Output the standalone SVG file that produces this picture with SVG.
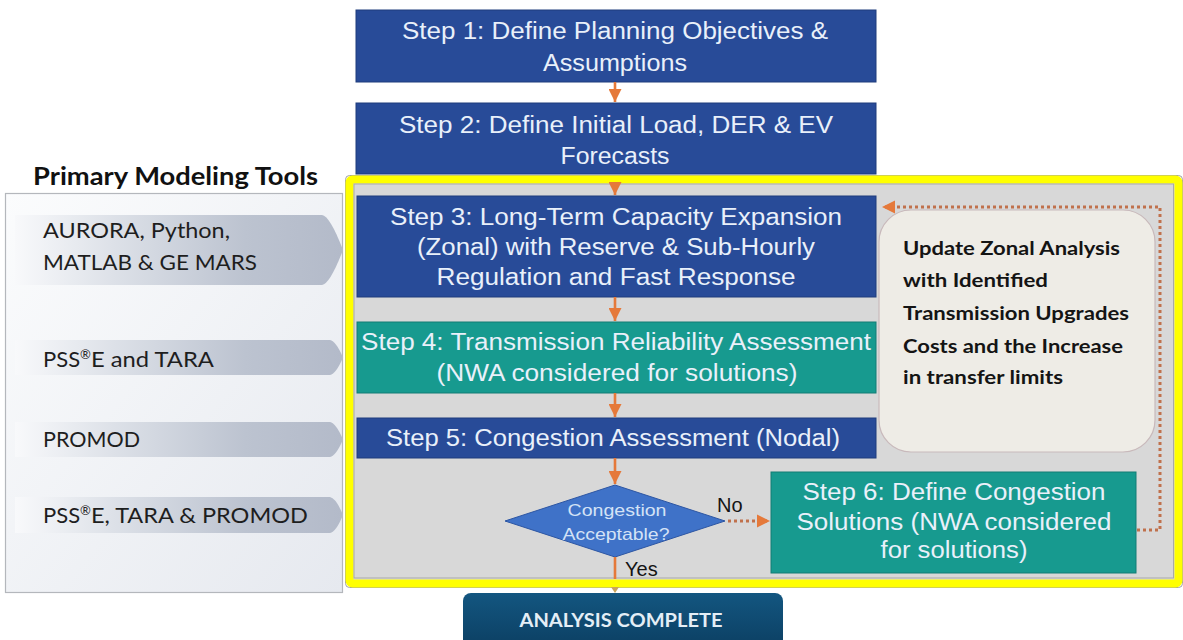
<svg xmlns="http://www.w3.org/2000/svg" width="1183" height="640" viewBox="0 0 1183 640">
  <defs>
    <linearGradient id="panelFill" x1="0" y1="0" x2="1" y2="1">
      <stop offset="0" stop-color="#fbfcfd"/>
      <stop offset="1" stop-color="#e6e9ef"/>
    </linearGradient>
    <linearGradient id="chevFill" x1="0" y1="0" x2="1" y2="0">
      <stop offset="0" stop-color="#f8f9fb"/>
      <stop offset="0.3" stop-color="#dde1e8"/>
      <stop offset="0.7" stop-color="#bcc3d0"/>
      <stop offset="1" stop-color="#b3bac9"/>
    </linearGradient>
    <linearGradient id="doneFill" x1="0" y1="0" x2="0" y2="1">
      <stop offset="0" stop-color="#135680"/>
      <stop offset="1" stop-color="#0b3d60"/>
    </linearGradient>
    <marker id="arrowHead" viewBox="0 0 10 10" refX="10" refY="5" markerWidth="5" markerHeight="5" orient="auto" markerUnits="strokeWidth">
      <path d="M0,0 L10,5 L0,10 z" fill="#e5793a"/>
    </marker>
    <marker id="dotHead" viewBox="0 0 10 10" refX="10" refY="5" markerWidth="4.4" markerHeight="4.4" orient="auto" markerUnits="strokeWidth">
      <path d="M0,0 L10,5 L0,10 z" fill="#e5793a"/>
    </marker>
  </defs>
  <style>
    .step { fill: #284b98; stroke: #1f3c7c; stroke-width: 1; }
    .teal { fill: #179a8f; stroke: #127d74; stroke-width: 1; }
    .stxt { font-family: "Liberation Sans", Arial, sans-serif; font-size: 23px; fill: #e9f0fa; text-anchor: middle; }
    .tool { font-family: Lato, "Open Sans", sans-serif; font-size: 22px; fill: #1e1e1e; }
    .note { font-family: Lato, "Open Sans", sans-serif; font-size: 19px; font-weight: bold; fill: #141414; }
    .lbl { font-family: "Liberation Sans", Arial, sans-serif; font-size: 20px; fill: #141414; }
    .flow { stroke: #e5793a; stroke-width: 2.6; fill: none; }
    .dots { stroke: #c0714c; stroke-width: 3; fill: none; stroke-dasharray: 3 3; }
  </style>

  <rect width="1183" height="640" fill="#ffffff"/>

  <!-- tools panel -->
  <g id="tools-panel">
    <text x="33" y="185" font-family="Lato, 'Open Sans', sans-serif" font-size="25" font-weight="bold" fill="#111" textLength="285" lengthAdjust="spacingAndGlyphs">Primary Modeling Tools</text>
    <rect x="5.5" y="193.5" width="337" height="399" fill="url(#panelFill)" stroke="#b4b7bc" stroke-width="1.2"/>
  </g>
  <g id="tool-aurora">
    <path d="M15,215 H322 Q330,216 343,250 Q330,284 322,285 H15 Z" fill="url(#chevFill)"/>
    <text class="tool" x="43" y="238" textLength="187" lengthAdjust="spacingAndGlyphs">AURORA,  Python,</text>
    <text class="tool" x="43" y="270" textLength="214" lengthAdjust="spacingAndGlyphs">MATLAB &amp; GE MARS</text>
  </g>
  <g id="tool-psse">
    <path d="M15,340 H330 Q336,341 343,357.5 Q336,374 330,375 H15 Z" fill="url(#chevFill)"/>
    <text class="tool" x="43" y="367">PSS<tspan font-size="13" dy="-8">®</tspan><tspan dy="8" textLength="123" lengthAdjust="spacingAndGlyphs">E and TARA</tspan></text>
  </g>
  <g id="tool-promod">
    <path d="M15,422 H330 Q336,423 343,439.5 Q336,456 330,457 H15 Z" fill="url(#chevFill)"/>
    <text class="tool" x="43" y="447" textLength="97" lengthAdjust="spacingAndGlyphs">PROMOD</text>
  </g>
  <g id="tool-all">
    <path d="M15,497 H330 Q336,498 343,515 Q336,532 330,533 H15 Z" fill="url(#chevFill)"/>
    <text class="tool" x="43" y="523">PSS<tspan font-size="13" dy="-8">®</tspan><tspan dy="8" textLength="217" lengthAdjust="spacingAndGlyphs">E, TARA  &amp; PROMOD</tspan></text>
  </g>

  <!-- iterative study frame -->
  <g id="study-frame">
    <rect x="345.5" y="175.5" width="837" height="412" rx="4" fill="none" stroke="#a2a2a2" stroke-width="1"/>
    <rect x="349.5" y="179.5" width="829" height="404" rx="3" fill="#d8d8d8" stroke="#ffff00" stroke-width="8"/>
    <rect x="354" y="184" width="819.5" height="394" fill="none" stroke="#a9a9a9" stroke-width="1"/>
  </g>

  <g id="step1">
    <rect class="step" x="356" y="10" width="520" height="72"/>
    <text class="stxt" x="615" y="39" textLength="426" lengthAdjust="spacingAndGlyphs">Step 1: Define Planning  Objectives &amp;</text>
    <text class="stxt" x="615" y="71" textLength="144" lengthAdjust="spacingAndGlyphs">Assumptions</text>
  </g>
  <g id="step2">
    <rect class="step" x="356" y="103" width="520" height="71"/>
    <text class="stxt" x="616" y="133" textLength="434" lengthAdjust="spacingAndGlyphs">Step 2: Define Initial Load, DER &amp; EV</text>
    <text class="stxt" x="615" y="164" textLength="109" lengthAdjust="spacingAndGlyphs">Forecasts</text>
  </g>
  <g id="step3">
    <rect class="step" x="357" y="196" width="519" height="101"/>
    <text class="stxt" x="616" y="225" textLength="452" lengthAdjust="spacingAndGlyphs">Step 3: Long-Term  Capacity Expansion</text>
    <text class="stxt" x="616" y="255" textLength="398" lengthAdjust="spacingAndGlyphs">(Zonal) with Reserve &amp; Sub-Hourly</text>
    <text class="stxt" x="616" y="285" textLength="359" lengthAdjust="spacingAndGlyphs">Regulation  and Fast Response</text>
  </g>
  <g id="step4">
    <rect class="teal" x="357" y="322" width="519" height="71"/>
    <text class="stxt" x="616" y="350" textLength="510" lengthAdjust="spacingAndGlyphs">Step 4: Transmission  Reliability Assessment</text>
    <text class="stxt" x="617" y="381" textLength="361" lengthAdjust="spacingAndGlyphs">(NWA considered for solutions)</text>
  </g>
  <g id="step5">
    <rect class="step" x="357" y="418" width="519" height="40"/>
    <text class="stxt" x="613" y="446" textLength="454" lengthAdjust="spacingAndGlyphs">Step 5: Congestion  Assessment  (Nodal)</text>
  </g>
  <g id="decision">
    <path d="M505,521 L615,485 L725,521 L615,557 Z" fill="#3f72c8" stroke="#2d56a3" stroke-width="1"/>
    <text x="617" y="516" font-family="'Liberation Sans', Arial, sans-serif" font-size="17" fill="#d4e2f6" text-anchor="middle" textLength="99" lengthAdjust="spacingAndGlyphs">Congestion</text>
    <text x="616" y="540" font-family="'Liberation Sans', Arial, sans-serif" font-size="17" fill="#d4e2f6" text-anchor="middle" textLength="107" lengthAdjust="spacingAndGlyphs">Acceptable?</text>
  </g>
  <g id="step6">
    <rect class="teal" x="771" y="472" width="365" height="101"/>
    <text class="stxt" x="954" y="500" textLength="303" lengthAdjust="spacingAndGlyphs">Step 6: Define Congestion</text>
    <text class="stxt" x="954" y="530" textLength="315" lengthAdjust="spacingAndGlyphs">Solutions (NWA considered</text>
    <text class="stxt" x="954" y="558" textLength="147" lengthAdjust="spacingAndGlyphs">for solutions)</text>
  </g>
  <g id="zonal-update">
    <rect x="879" y="210" width="276" height="242" rx="32" fill="#eeece6" stroke="#c8b9bb" stroke-width="1.2"/>
    <text class="note" x="903" y="255" textLength="217" lengthAdjust="spacingAndGlyphs">Update Zonal Analysis</text>
    <text class="note" x="903" y="287" textLength="145" lengthAdjust="spacingAndGlyphs">with Identified</text>
    <text class="note" x="903" y="320" textLength="226" lengthAdjust="spacingAndGlyphs">Transmission Upgrades</text>
    <text class="note" x="903" y="353" textLength="220" lengthAdjust="spacingAndGlyphs">Costs and the Increase</text>
    <text class="note" x="903" y="384" textLength="160" lengthAdjust="spacingAndGlyphs">in transfer limits</text>
  </g>
  <g id="analysis-complete">
    <rect x="463" y="593" width="320" height="60" rx="8" fill="url(#doneFill)"/>
    <text x="621" y="627" font-family="Lato, 'Open Sans', sans-serif" font-size="19" font-weight="bold" fill="#e4eef6" text-anchor="middle" textLength="203" lengthAdjust="spacingAndGlyphs">ANALYSIS COMPLETE</text>
  </g>

  <!-- connectors -->
  <g id="connectors">
    <line class="flow" x1="615" y1="82" x2="615" y2="102" marker-end="url(#arrowHead)"/>
    <line class="flow" x1="615" y1="184" x2="615" y2="195" marker-end="url(#arrowHead)"/>
    <line class="flow" x1="615" y1="297" x2="615" y2="321" marker-end="url(#arrowHead)"/>
    <line class="flow" x1="615" y1="393" x2="615" y2="417" marker-end="url(#arrowHead)"/>
    <line class="flow" x1="615" y1="458" x2="615" y2="484" marker-end="url(#arrowHead)"/>
    <line class="flow" x1="615" y1="557" x2="615" y2="579"/>
    <path d="M611,587 L619,587 L615,593 Z" fill="#c9a35a"/>
    <line class="dots" x1="728" y1="521" x2="770" y2="521" marker-end="url(#dotHead)"/>
    <polyline class="dots" points="1137,530 1160,530 1160,207 882,207" marker-end="url(#dotHead)"/>
    <text class="lbl" x="717" y="512">No</text>
    <text class="lbl" x="625" y="576">Yes</text>
  </g>
</svg>
